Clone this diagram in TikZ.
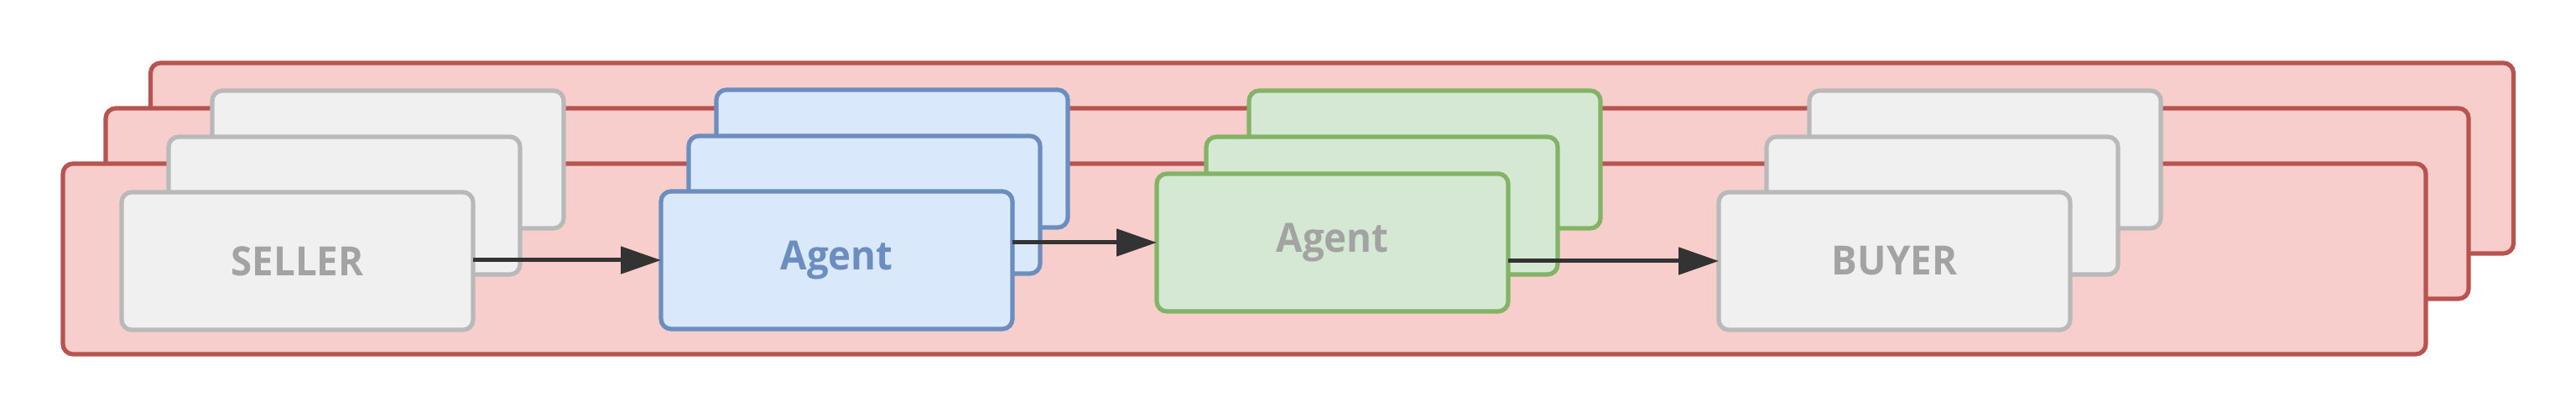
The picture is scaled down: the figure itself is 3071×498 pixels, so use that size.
\documentclass[tikz,border=0pt]{standalone}
\usepackage{fontspec}
\setmainfont{Open Sans}[FakeStretch=0.95]
\usetikzlibrary{arrows.meta}
\definecolor{redfill}{HTML}{F8CECC}
\definecolor{redline}{HTML}{B85450}
\definecolor{grayfill}{HTML}{F0F0F0}
\definecolor{grayline}{HTML}{B9B9B9}
\definecolor{graytext}{HTML}{A3A3A3}
\definecolor{bluefill}{HTML}{DAE8FC}
\definecolor{blueline}{HTML}{6C8EBF}
\definecolor{greenfill}{HTML}{D5E8D4}
\definecolor{greenline}{HTML}{82B366}
\definecolor{arrowcol}{HTML}{333333}
\tikzset{
  basebox/.style={rectangle, rounded corners=3pt, line width=1.3pt, inner sep=0pt, outer sep=0pt,
    minimum width=104.75pt, minimum height=41pt, font=\fontsize{12}{14}\selectfont\bfseries},
  redbox/.style={rectangle, rounded corners=3pt, line width=1.3pt, inner sep=0pt, outer sep=0pt,
    minimum width=704.25pt, minimum height=56.75pt, draw=redline, fill=redfill},
  graybox/.style={basebox, draw=grayline, fill=grayfill, text=graytext},
  bluebox/.style={basebox, draw=blueline, fill=bluefill, text=blueline},
  greenbox/.style={basebox, draw=greenline, fill=greenfill, text=graytext},
  flowarrow/.style={draw=arrowcol, line width=1.25pt, -{Triangle[length=12pt,width=8pt]}, fill=arrowcol}
}
\begin{document}
\begin{tikzpicture}[x=0.25pt, y=-0.25pt]
\useasboundingbox (0,0) rectangle (3071,498);
% red background stack
\node[redbox] (r3) at (1588,188.5) {};
\node[redbox] (r2) at (1534.5,242.5) {};
\node[redbox] (r1) at (1483.5,308.5) {};
% seller stack
\node[graybox] (s3) at (462.5,190) {};
\node[graybox] (s2) at (410.5,245) {};
\node[graybox] (s1) at (354.5,311) {SELLER};
% blue agent stack
\node[bluebox] (b3) at (1063.5,189) {};
\node[bluebox] (b2) at (1030.5,244) {};
\node[bluebox] (b1) at (997.5,310) {Agent};
% green agent stack
\node[greenbox] (g3) at (1698.5,190) {};
\node[greenbox] (g2) at (1647.5,245) {};
\node[greenbox] (g1) at (1588.5,289) {Agent};
% buyer stack
\node[graybox] (y3) at (2366.5,190) {};
\node[graybox] (y2) at (2315.5,245) {};
\node[graybox] (y1) at (2258.5,311) {BUYER};
% arrows
\draw[flowarrow] (s1.east |- b1.west) -- (b1.west);
\draw[flowarrow] (b1.east |- g1.west) -- (g1.west);
\draw[flowarrow] (g1.east |- y1.west) -- (y1.west);
\end{tikzpicture}
\end{document}
